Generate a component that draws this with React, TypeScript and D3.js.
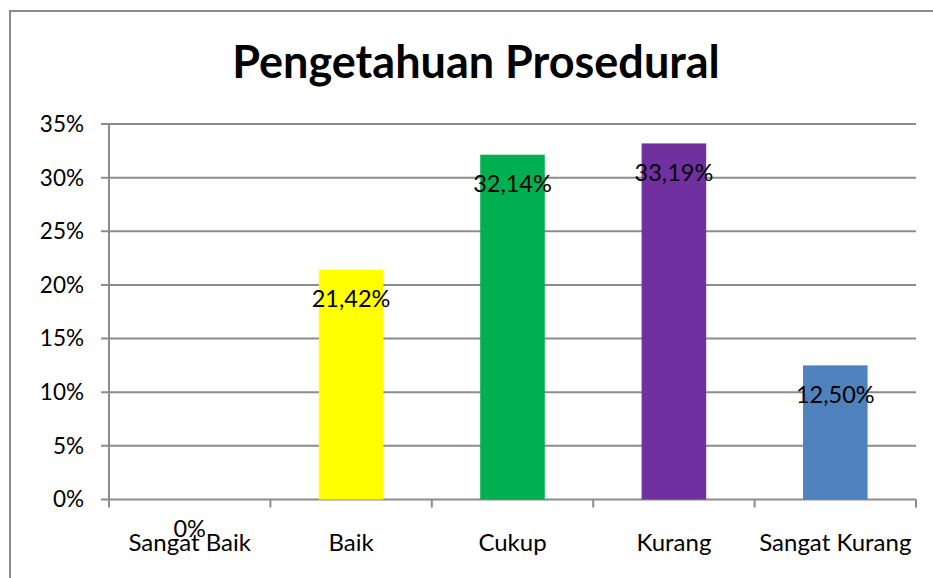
import { useEffect, useRef } from "react";
import * as d3 from "d3";

const categories = ["Sangat Baik", "Baik", "Cukup", "Kurang", "Sangat Kurang"];
const values = [0, 21.42, 32.14, 33.19, 12.5];
const labels = ["0%", "21,42%", "32,14%", "33,19%", "12,50%"];
const colors = ["#4F81BD", "#FFFF00", "#00B050", "#7030A0", "#4F81BD"];
const yTicks = [0, 5, 10, 15, 20, 25, 30, 35];

const W = 933;
const H = 578;
const FONT = "Lato, 'Open Sans', sans-serif";

export default function App() {
  const svgRef = useRef<SVGSVGElement>(null);

  useEffect(() => {
    if (!svgRef.current) return;
    const svg = d3.select(svgRef.current);
    svg.selectAll("*").remove();

    const left = 109;
    const right = 916;
    const top = 124;
    const bottom = 499.5;

    svg
      .append("rect")
      .attr("x", 10)
      .attr("y", 11)
      .attr("width", W + 20)
      .attr("height", H + 20)
      .attr("fill", "white")
      .attr("stroke", "#8c8c8c")
      .attr("stroke-width", 2);

    svg
      .append("text")
      .attr("x", 476)
      .attr("y", 78)
      .attr("text-anchor", "middle")
      .attr("font-family", FONT)
      .attr("font-weight", "bold")
      .attr("font-size", 45)
      .attr("fill", "#000")
      .text("Pengetahuan Prosedural");

    const x = d3.scaleBand<string>().domain(categories).range([left, right]).padding(0);
    const y = d3.scaleLinear().domain([0, 35]).range([bottom, top]);

    const g = svg.append("g");

    // gridlines + y tick labels
    yTicks.forEach((t) => {
      g.append("line")
        .attr("x1", left - 8)
        .attr("x2", right)
        .attr("y1", y(t))
        .attr("y2", y(t))
        .attr("stroke", "#8c8c8c")
        .attr("stroke-width", 2);
      g.append("text")
        .attr("x", 84)
        .attr("y", y(t))
        .attr("dy", "0.35em")
        .attr("text-anchor", "end")
        .attr("font-family", FONT)
        .attr("font-size", 22.5)
        .attr("fill", "#000")
        .text(`${t}%`);
    });

    // y axis line
    g.append("line")
      .attr("x1", left)
      .attr("x2", left)
      .attr("y1", top)
      .attr("y2", bottom)
      .attr("stroke", "#8c8c8c")
      .attr("stroke-width", 2);

    // category ticks
    const bounds = categories.map((c) => x(c)!).concat([right]);
    bounds.forEach((b) => {
      g.append("line")
        .attr("x1", b)
        .attr("x2", b)
        .attr("y1", bottom)
        .attr("y2", bottom + 8)
        .attr("stroke", "#8c8c8c")
        .attr("stroke-width", 2);
    });

    const barW = x.bandwidth() * 0.4;

    g.selectAll("rect.bar")
      .data(values)
      .join("rect")
      .attr("class", "bar")
      .attr("x", (_, i) => x(categories[i])! + (x.bandwidth() - barW) / 2)
      .attr("width", barW)
      .attr("y", (d) => y(d))
      .attr("height", (d) => bottom - y(d))
      .attr("fill", (_, i) => colors[i]);

    g.selectAll("text.cat")
      .data(categories)
      .join("text")
      .attr("class", "cat")
      .attr("x", (d) => x(d)! + x.bandwidth() / 2)
      .attr("y", 543)
      .attr("dy", "0.35em")
      .attr("text-anchor", "middle")
      .attr("font-family", FONT)
      .attr("font-size", 24)
      .attr("fill", "#000")
      .text((d) => d);

    g.selectAll("text.val")
      .data(values)
      .join("text")
      .attr("class", "val")
      .attr("x", (_, i) => x(categories[i])! + x.bandwidth() / 2)
      .attr("y", (d) => y(d) + 29)
      .attr("dy", "0.35em")
      .attr("text-anchor", "middle")
      .attr("font-family", FONT)
      .attr("font-size", 23.5)
      .attr("fill", "#000")
      .text((_, i) => labels[i]);
  }, []);

  return (
    <svg
      ref={svgRef}
      width={W}
      height={H}
      style={{ position: "absolute", left: 0, top: 0, background: "white" }}
    />
  );
}
